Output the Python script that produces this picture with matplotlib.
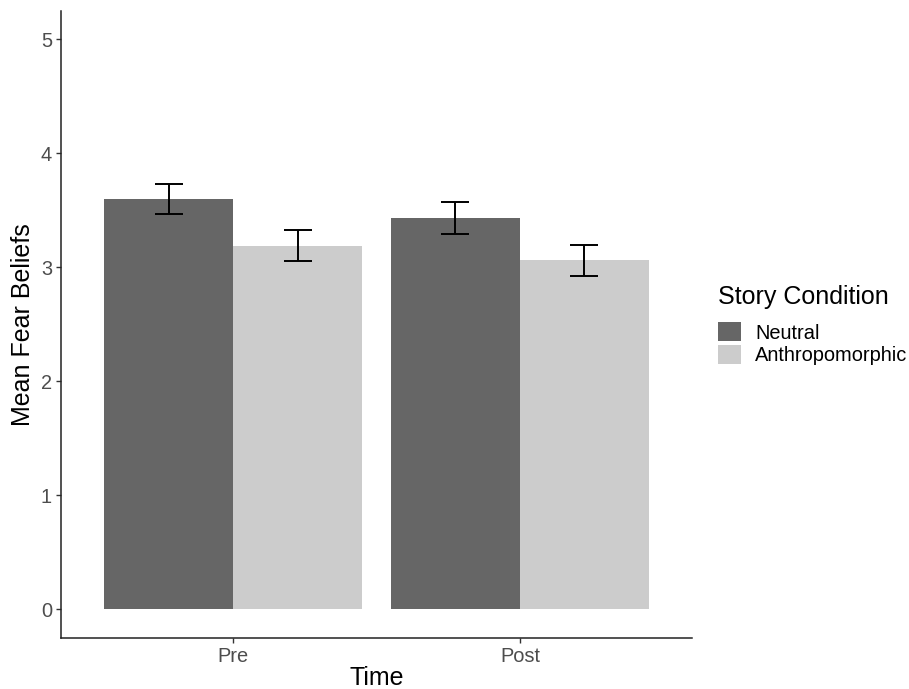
import matplotlib
matplotlib.use("Agg")
import matplotlib.pyplot as plt
from matplotlib.patches import Patch
import numpy as np

times = ["Pre", "Post"]
conditions = ["Neutral", "Anthropomorphic"]
means = {"Neutral": [3.60, 3.43], "Anthropomorphic": [3.19, 3.06]}
errors = {"Neutral": [0.133, 0.14], "Anthropomorphic": [0.135, 0.138]}
colors = {"Neutral": "#666666", "Anthropomorphic": "#CCCCCC"}
yticks = [0, 1, 2, 3, 4, 5]

plt.rcParams['font.family'] = ['Liberation Sans', 'DejaVu Sans']

fig = plt.figure(figsize=(9.09, 6.89), dpi=100)
W, H = 909, 689
ax = fig.add_axes([61 / W, 1 - 638 / H, (692 - 61) / W, (638 - 10.5) / H])

x = np.arange(1, len(times) + 1)
bw = 0.45
for i, c in enumerate(conditions):
    pos = x + (i - 0.5) * bw
    ax.bar(pos, means[c], width=bw, color=colors[c], edgecolor='none', label=c, zorder=2)
    ax.errorbar(pos, means[c], yerr=errors[c], fmt='none', ecolor='black',
                elinewidth=1.4, capsize=10, capthick=1.4, zorder=3)

ax.set_xlim(0.4, 2.6)
ax.set_ylim(-0.25, 5.25)
ax.set_xticks(x)
ax.set_xticklabels(times)
ax.set_yticks(yticks)
ax.set_yticklabels([str(v) for v in yticks])
for s in ['top', 'right']:
    ax.spines[s].set_visible(False)
for s in ['left', 'bottom']:
    ax.spines[s].set_linewidth(1.1)
    ax.spines[s].set_color('#222222')
ax.tick_params(axis='both', length=3.5, width=1.0, color='#333333',
               labelsize=14.4, labelcolor='#4D4D4D', pad=3)
ax.set_xlabel("Time", fontsize=18, color='black', labelpad=0)
ax.set_ylabel("Mean Fear Beliefs", fontsize=18, color='black', labelpad=4)

handles = [Patch(facecolor=colors[c], edgecolor='none') for c in conditions]
leg = fig.legend(handles, conditions, title="Story Condition",
                 loc='upper left', bbox_to_anchor=(708 / W, 1 - 275 / H),
                 frameon=False, fontsize=14.4, title_fontsize=18,
                 handlelength=1.15, handleheight=1.1, handletextpad=0.7,
                 labelspacing=0.1, borderpad=0)
leg._legend_box.align = "left"
leg._legend_box.sep = 9.5

fig.savefig("out.png", dpi=100)
